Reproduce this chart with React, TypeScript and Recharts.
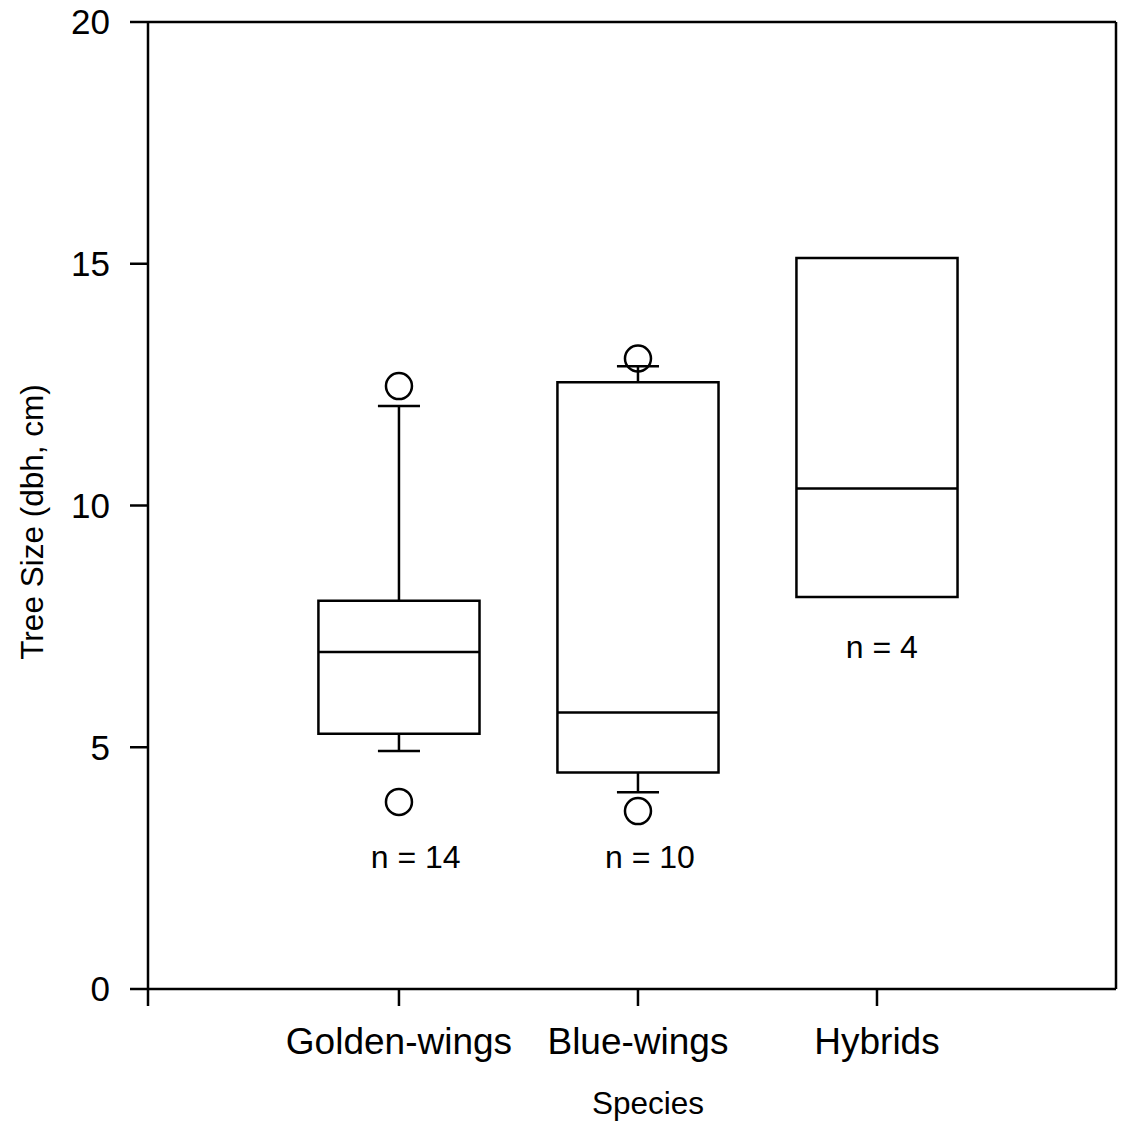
import React from 'react';
import { ComposedChart, XAxis, YAxis, Scatter, ReferenceArea, ReferenceLine, Label } from 'recharts';

const categories = ['Golden-wings', 'Blue-wings', 'Hybrids'];
const positions = [1, 2, 3];
const q1 = [5.28, 4.48, 8.11];
const medians = [6.97, 5.72, 10.35];
const q3 = [8.03, 12.55, 15.12];
const whiskerLow: (number | null)[] = [4.92, 4.07, null];
const whiskerHigh: (number | null)[] = [12.06, 12.88, null];
const outlierX = [1, 1, 2, 2];
const outlierY = [12.47, 3.87, 13.04, 3.68];
const nLabels = ['n = 14', 'n = 10', 'n = 4'];
const nLabelX = [1.07, 2.05, 3.02];
const nLabelY = [2.72, 2.72, 7.08];
const yTicks = [0, 5, 10, 15, 20];
const xTicks = [-0.05, 1, 2, 3];

const FONT = '"Liberation Sans", Arial, sans-serif';
const BOX_HALF = 0.337;
const CAP_HALF = 0.088;
const SW = 2.5;

const outlierData = outlierX.map((x, i) => ({ x, y: outlierY[i] }));
const nData = nLabelX.map((x, i) => ({ x, y: nLabelY[i], label: nLabels[i] }));

export default function App() {
  const elements: React.ReactElement[] = [];
  positions.forEach((p, i) => {
    const lo = whiskerLow[i];
    const hi = whiskerHigh[i];
    if (hi !== null) {
      elements.push(
        <ReferenceLine key={`wh${i}`} segment={[{ x: p, y: q3[i] }, { x: p, y: hi }]} stroke="#000" strokeWidth={SW} ifOverflow="visible" />
      );
      elements.push(
        <ReferenceLine key={`ch${i}`} segment={[{ x: p - CAP_HALF, y: hi }, { x: p + CAP_HALF, y: hi }]} stroke="#000" strokeWidth={SW} ifOverflow="visible" />
      );
    }
    if (lo !== null) {
      elements.push(
        <ReferenceLine key={`wl${i}`} segment={[{ x: p, y: q1[i] }, { x: p, y: lo }]} stroke="#000" strokeWidth={SW} ifOverflow="visible" />
      );
      elements.push(
        <ReferenceLine key={`cl${i}`} segment={[{ x: p - CAP_HALF, y: lo }, { x: p + CAP_HALF, y: lo }]} stroke="#000" strokeWidth={SW} ifOverflow="visible" />
      );
    }
    elements.push(
      <ReferenceArea key={`box${i}`} x1={p - BOX_HALF} x2={p + BOX_HALF} y1={q1[i]} y2={q3[i]} fill="#fff" fillOpacity={1} stroke="#000" strokeWidth={SW} ifOverflow="visible" />
    );
    elements.push(
      <ReferenceLine key={`med${i}`} segment={[{ x: p - BOX_HALF, y: medians[i] }, { x: p + BOX_HALF, y: medians[i] }]} stroke="#000" strokeWidth={SW} ifOverflow="visible" />
    );
  });

  return (
    <div style={{ position: 'absolute', left: 0, top: 0, width: 1127, height: 1127, background: '#fff' }}>
      <ComposedChart width={1127} height={1127} margin={{ top: 22, right: 11, left: 0, bottom: 0 }}>
        <XAxis
          type="number"
          dataKey="x"
          domain={[-0.05, 4]}
          allowDataOverflow
          ticks={xTicks}
          interval={0}
          tickFormatter={(v: number) => {
            const idx = positions.indexOf(v);
            return idx >= 0 ? categories[idx] : '';
          }}
          height={138}
          axisLine={{ stroke: '#000', strokeWidth: SW }}
          tickLine={{ stroke: '#000', strokeWidth: SW }}
          tickSize={17}
          tickMargin={22}
          tick={{ fill: '#000', fontSize: 37, fontFamily: FONT }}
        >
          <Label
            content={() => (
              <text x={648} y={1114} textAnchor="middle" fontSize={31.5} fontFamily={FONT} fill="#000">
                Species
              </text>
            )}
          />
        </XAxis>
        <YAxis
          type="number"
          dataKey="y"
          domain={[0, 20]}
          allowDataOverflow
          ticks={yTicks}
          interval={0}
          width={148}
          axisLine={{ stroke: '#000', strokeWidth: SW }}
          tickLine={{ stroke: '#000', strokeWidth: SW }}
          tickSize={18}
          tickMargin={20}
          tick={{ fill: '#000', fontSize: 35, fontFamily: FONT }}
        >
          <Label
            content={() => (
              <text
                x={43}
                y={522}
                textAnchor="middle"
                fontSize={31.5}
                fontFamily={FONT}
                fill="#000"
                transform="rotate(-90, 43, 522)"
              >
                Tree Size (dbh, cm)
              </text>
            )}
          />
        </YAxis>
        <ReferenceLine y={20} stroke="#000" strokeWidth={SW} ifOverflow="visible" />
        <ReferenceLine x={4} stroke="#000" strokeWidth={SW} ifOverflow="visible" />
        {elements}
        <Scatter
          data={outlierData}
          dataKey="y"
          isAnimationActive={false}
          shape={(props: any) => (
            <circle cx={props.cx} cy={props.cy} r={13} fill="none" stroke="#000" strokeWidth={SW} />
          )}
        />
        <Scatter
          data={nData}
          dataKey="y"
          isAnimationActive={false}
          shape={(props: any) => (
            <text
              x={props.cx}
              y={props.cy}
              textAnchor="middle"
              dominantBaseline="central"
              fontSize={32}
              fontFamily={FONT}
              fill="#000"
            >
              {props.payload.label}
            </text>
          )}
        />
      </ComposedChart>
    </div>
  );
}
